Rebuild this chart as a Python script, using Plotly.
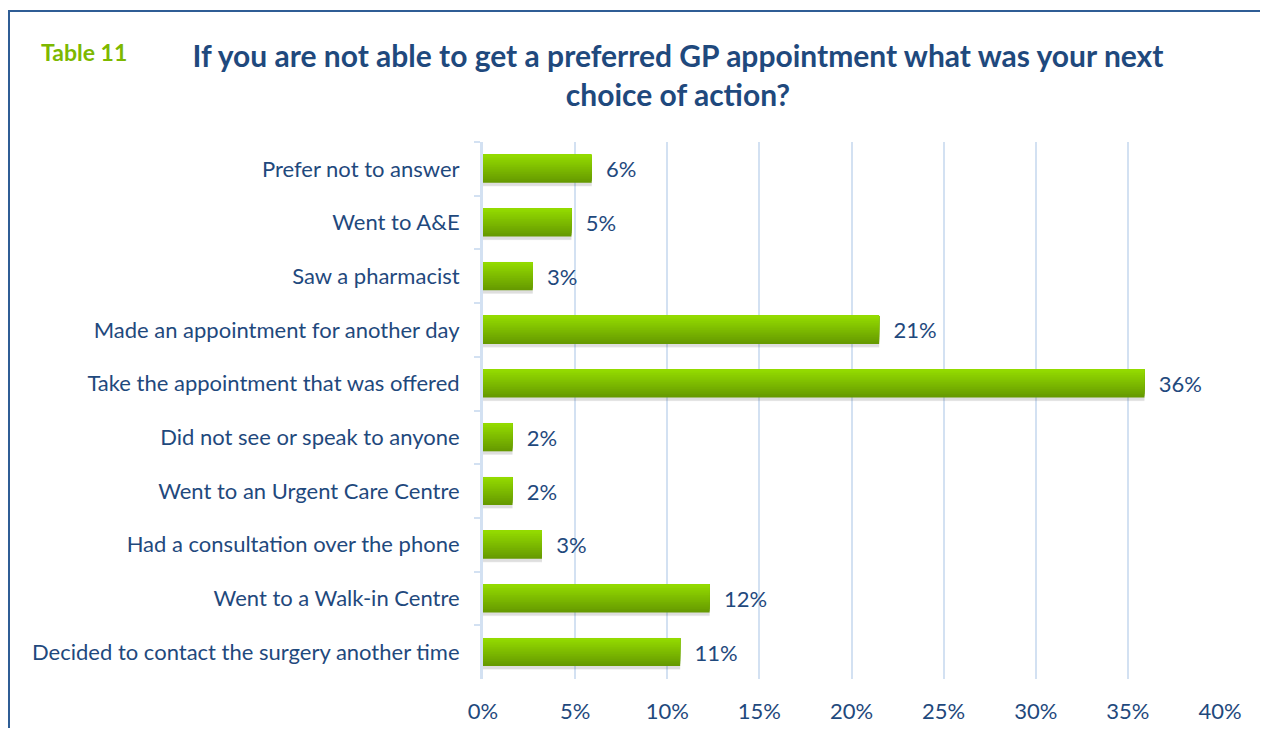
import plotly.graph_objects as go

categories = [
    "Prefer not to answer",
    "Went to A&E",
    "Saw a pharmacist",
    "Made an appointment for another day",
    "Take the appointment that was offered",
    "Did not see or speak to anyone",
    "Went to an Urgent Care Centre",
    "Had a consultation over the phone",
    "Went to a Walk-in Centre",
    "Decided to contact the surgery another time",
]
values = [5.9, 4.8, 2.7, 21.5, 35.9, 1.6, 1.6, 3.2, 12.3, 10.7]
labels = ["6%", "5%", "3%", "21%", "36%", "2%", "2%", "3%", "12%", "11%"]
x_ticks = [0, 5, 10, 15, 20, 25, 30, 35, 40]
x_tick_labels = ["0%", "5%", "10%", "15%", "20%", "25%", "30%", "35%", "40%"]

TEXT = "#1F497D"
GRID = "#D3E1F2"
FONT = "Lato"

# page offset of the plot div (browser default body margin)
OFF = 8
W, H = 1252, 720
# plot area in reference page pixels
PL, PR, PT, PB = 483, 1220, 142, 679
L, R, T, B = PL - OFF, W - (PR - OFF), PT - OFF, H - (PB - OFF)
pw, ph = W - L - R, H - T - B


def px(xp):  # reference page x -> paper
    return (xp - OFF - L) / pw


def py(yp):  # reference page y -> paper
    return (H - B - (yp - OFF)) / ph


fig = go.Figure()

BAR_W = 0.52
# soft shadow
for w, off, a in [(0.60, 0.03, 0.04), (0.57, 0.04, 0.06), (0.54, 0.045, 0.08)]:
    fig.add_trace(go.Bar(
        y=categories, x=values, orientation="h",
        width=w, offset=-w / 2 + off,
        marker=dict(color=f"rgba(60,60,60,{a})", line=dict(width=0)),
        hoverinfo="skip", showlegend=False,
    ))

# vertical gradient: layered slices, darkest full bar first, lighter ones cover the top part
n = 16
top = (0x93, 0xDA, 0x00)
bot = (0x66, 0x9A, 0x00)
sw = BAR_W / n
for i in range(n - 1, -1, -1):
    t = i / (n - 1)
    c = tuple(round(top[k] + (bot[k] - top[k]) * t) for k in range(3))
    fig.add_trace(go.Bar(
        y=categories, x=values, orientation="h",
        width=(i + 1) * sw, offset=-BAR_W / 2,
        marker=dict(color="rgb(%d,%d,%d)" % c, line=dict(width=0)),
        hoverinfo="skip", showlegend=False,
    ))

# label carrier
fig.add_trace(go.Bar(
    y=categories, x=values, orientation="h",
    width=BAR_W, offset=-BAR_W / 2,
    marker=dict(color="rgba(0,0,0,0)", line=dict(width=0)),
    text=["  " + s for s in labels], textposition="outside",
    textfont=dict(family=FONT, size=22, color=TEXT),
    cliponaxis=False, hoverinfo="skip", showlegend=False,
))

fig.update_layout(
    width=W, height=H,
    margin=dict(l=L, r=R, t=T, b=B, autoexpand=False),
    barmode="overlay",
    plot_bgcolor="white", paper_bgcolor="white",
    font=dict(family=FONT, color=TEXT),
    title=dict(
        text="<b>If you are not able to get a preferred GP appointment what was your next<br>choice of action?</b>",
        x=(678 - OFF) / W, xref="container", xanchor="center",
        y=1 - (75 - 8 - OFF) / H, yref="container", yanchor="middle",
        font=dict(family=FONT, size=30, color=TEXT),
    ),
    xaxis=dict(
        range=[0, 40], tickvals=x_ticks, ticktext=x_tick_labels,
        showgrid=True, gridcolor=GRID, gridwidth=2,
        zeroline=False, showline=False, ticks="",
        tickfont=dict(family=FONT, size=22, color=TEXT),
        ticklabelstandoff=17, fixedrange=True, automargin=False,
    ),
    yaxis=dict(
        type="category", categoryorder="array", categoryarray=categories,
        autorange="reversed",
        showgrid=False, showline=True, linecolor=GRID, linewidth=3,
        ticks="outside", tickson="boundaries", ticklen=6, tickcolor=GRID, tickwidth=2,
        tickfont=dict(family=FONT, size=22, color=TEXT),
        ticklabelstandoff=16, fixedrange=True, automargin=False,
    ),
    annotations=[dict(
        text="<b>Table 11</b>", xref="paper", yref="paper",
        x=px(39), y=py(52), xanchor="left", yanchor="middle", showarrow=False,
        font=dict(family=FONT, size=23, color="#7DB800"),
    )],
    shapes=[dict(
        type="rect", xref="paper", yref="paper",
        x0=px(9), x1=px(1400), y0=py(800), y1=py(11),
        line=dict(color="#2F5D95", width=2), layer="above",
    )],
)

fig.write_html("out.html")
